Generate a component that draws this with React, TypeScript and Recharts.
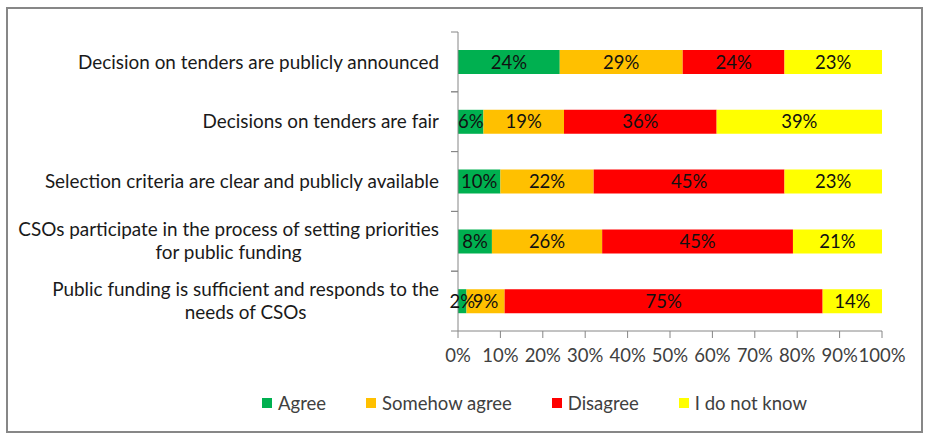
import React from 'react';
import { BarChart, Bar, XAxis, YAxis, Legend, LabelList } from 'recharts';

const categories = [
    'Decision on tenders are publicly announced',
    'Decisions on tenders are fair',
    'Selection criteria are clear and publicly available',
    'CSOs participate in the process of setting priorities\nfor public funding',
    'Public funding is sufficient and responds to the\nneeds of CSOs',
];

const agree = [24, 6, 10, 8, 2];
const somehowAgree = [29, 19, 22, 26, 9];
const disagree = [24, 36, 45, 45, 75];
const dontKnow = [23, 39, 23, 21, 14];

const xTicks = [0, 10, 20, 30, 40, 50, 60, 70, 80, 90, 100];

const series = [
    { key: 'agree', name: 'Agree', color: '#00B050' },
    { key: 'somehow', name: 'Somehow agree', color: '#FFC000' },
    { key: 'disagree', name: 'Disagree', color: '#FF0000' },
    { key: 'dontknow', name: 'I do not know', color: '#FFFF00' },
];

const data = categories.map((name, i) => ({
    name,
    agree: agree[i],
    somehow: somehowAgree[i],
    disagree: disagree[i],
    dontknow: dontKnow[i],
}));

const FONT = 'Lato, "Liberation Sans", sans-serif';
const FS = 18.5;
const LABEL_FS = 18.9;
const AXIS_GREY = '#868686';
const TICK_SIZE = 7;
const TICK_MARGIN = 12;

let ctx: CanvasRenderingContext2D | null = null;
const measure = (s: string) => {
    if (!ctx) ctx = document.createElement('canvas').getContext('2d');
    if (!ctx) return s.length * 8.5;
    ctx.font = `${LABEL_FS}px Lato`;
    return ctx.measureText(s).width;
};

const CategoryTick = (props: any) => {
    const { x, y, payload } = props;
    const lines: string[] = String(payload.value).split('\n');
    const half = payload.offset || 30;
    const axisX = x + TICK_SIZE + TICK_MARGIN;
    const lineH = 23;
    const top = y - ((lines.length - 1) * lineH) / 2;
    let text;
    if (lines.length === 1) {
        text = (
            <text x={x} y={y} dy="0.35em" textAnchor="end" fontSize={LABEL_FS} fontFamily={FONT} fill="#1a1a1a">
                {lines[0]}
            </text>
        );
    } else {
        // wrapped labels: block sits against the axis, lines centred inside it
        const w = Math.max(...lines.map(measure));
        const cx = x - w / 2;
        text = (
            <text x={cx} y={top} textAnchor="middle" fontSize={LABEL_FS} fontFamily={FONT} fill="#1a1a1a">
                {lines.map((l, i) => (
                    <tspan key={i} x={cx} y={top + i * lineH} dy="0.35em">{l}</tspan>
                ))}
            </text>
        );
    }
    return (
        <g>
            <line x1={axisX - TICK_SIZE} x2={axisX} y1={y - half} y2={y - half} stroke={AXIS_GREY} />
            <line x1={axisX - TICK_SIZE} x2={axisX} y1={y + half} y2={y + half} stroke={AXIS_GREY} />
            {text}
        </g>
    );
};

const LegendContent = () => (
    <div style={{ display: 'flex', alignItems: 'center', height: 30, paddingLeft: 262, fontFamily: FONT, fontSize: FS, color: '#404040' }}>
        {series.map(s => (
            <div key={s.key} style={{ display: 'flex', alignItems: 'center', marginRight: 40 }}>
                <span style={{ width: 10, height: 10, background: s.color, marginRight: 6, display: 'inline-block' }} />
                <span>{s.name}</span>
            </div>
        ))}
    </div>
);

const App = () => {
    return (
        <div style={{ position: 'fixed', left: 0, top: 0, width: 930, height: 439, background: '#fff' }}>
            <BarChart
                width={930}
                height={439}
                data={data}
                layout="vertical"
                margin={{ top: 32, right: 48, bottom: 21, left: 0 }}
                barSize={24}
            >
                <XAxis
                    type="number"
                    domain={[0, 100]}
                    ticks={xTicks}
                    tickFormatter={v => `${v}%`}
                    stroke={AXIS_GREY}
                    tickSize={TICK_SIZE}
                    tickMargin={11}
                    height={57}
                    interval={0}
                    tick={{ fill: '#404040', fontSize: FS, fontFamily: FONT }}
                />
                <YAxis
                    type="category"
                    dataKey="name"
                    width={458}
                    stroke={AXIS_GREY}
                    tickLine={false}
                    tickSize={TICK_SIZE}
                    tickMargin={TICK_MARGIN}
                    interval={0}
                    tick={<CategoryTick />}
                />
                <Legend verticalAlign="bottom" content={<LegendContent />} />
                {series.map(s => (
                    <Bar key={s.key} dataKey={s.key} name={s.name} stackId="a" fill={s.color} isAnimationActive={false}>
                        <LabelList
                            dataKey={s.key}
                            position="center"
                            formatter={(v: any) => `${v}%`}
                            fill="#111"
                            fontSize={FS}
                            fontFamily={FONT}
                        />
                    </Bar>
                ))}
            </BarChart>
            <svg width={930} height={439} style={{ position: 'absolute', left: 0, top: 0, pointerEvents: 'none' }}>
                <rect x={7} y={8} width={915} height={424} fill="none" stroke="#878787" strokeWidth={2} />
            </svg>
        </div>
    );
};

export default App;
